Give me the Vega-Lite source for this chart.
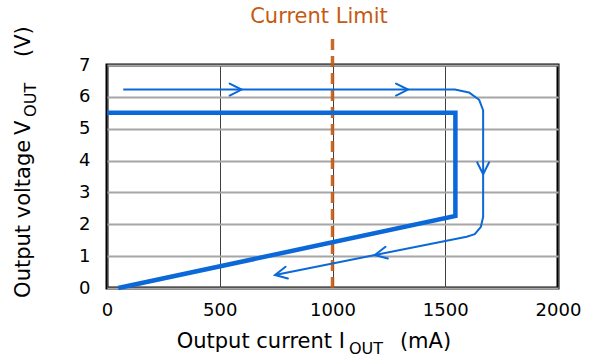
{
  "$schema": "https://vega.github.io/schema/vega-lite/v6.json",
  "width": 451,
  "height": 223,
  "autosize": {"type": "none"},
  "padding": {"left": 107, "top": 65, "right": 32, "bottom": 74},
  "background": "white",
  "data": {"values": [{}]},
  "config": {
    "view": {"stroke": "#000000", "strokeWidth": 3},
    "font": "DejaVu Sans"
  },
  "datasets": {
    "thick": [
      {"i": 1, "current": 0, "voltage": 5.5},
      {"i": 2, "current": 1545, "voltage": 5.5},
      {"i": 3, "current": 1545, "voltage": 2.26},
      {"i": 4, "current": 50, "voltage": 0}
    ],
    "thin": [
      {"i": 1, "current": 72, "voltage": 6.23},
      {"i": 2, "current": 1543, "voltage": 6.23},
      {"i": 3, "current": 1605, "voltage": 6.14},
      {"i": 4, "current": 1650, "voltage": 5.91},
      {"i": 5, "current": 1668, "voltage": 5.58},
      {"i": 6, "current": 1668, "voltage": 2.23},
      {"i": 7, "current": 1658, "voltage": 1.92},
      {"i": 8, "current": 1631, "voltage": 1.69},
      {"i": 9, "current": 1595, "voltage": 1.61},
      {"i": 10, "current": 745, "voltage": 0.41}
    ],
    "arrows": [
      {"current": 597, "voltage": 6.23, "dir": 0},
      {"current": 1335, "voltage": 6.23, "dir": 0},
      {"current": 1668, "voltage": 3.57, "dir": 90},
      {"current": 1188, "voltage": 1.035, "dir": 168.7},
      {"current": 745, "voltage": 0.41, "dir": 168.7}
    ]
  },
  "layer": [
    {
      "mark": {"type": "rule", "color": "#c55a11", "strokeWidth": 3.5, "strokeDash": [11, 6], "opacity": 0.9},
      "encoding": {
        "x": {
          "datum": 1000, "type": "quantitative",
          "scale": {"domain": [0, 2000], "nice": false, "zero": false},
          "axis": {
            "values": [0, 500, 1000, 1500, 2000], "tickCount": 5, "format": "d",
            "title": null, "domain": false, "ticks": false, "tickSize": 0,
            "labelPadding": 13, "labelFontSize": 18, "labelColor": "#000000",
            "labelFont": "DejaVu Sans", "labelFlush": false, "labelOverlap": false,
            "grid": true, "gridColor": "#404040", "gridWidth": 1, "gridOpacity": 1
          }
        },
        "y": {
          "datum": 0, "type": "quantitative",
          "scale": {"domain": [0, 7], "nice": false, "zero": false},
          "axis": {
            "values": [0, 1, 2, 3, 4, 5, 6, 7], "tickCount": 8, "format": "d",
            "title": null, "domain": false, "ticks": false, "tickSize": 0,
            "labelPadding": 17, "labelFontSize": 18, "labelColor": "#000000",
            "labelFont": "DejaVu Sans", "labelFlush": false, "labelOverlap": false,
            "grid": true, "gridColor": "#a6a6a6", "gridWidth": 2, "gridOpacity": 1
          }
        },
        "y2": {"datum": 8.0}
      }
    },
    {
      "data": {"name": "thick"},
      "mark": {"type": "line", "color": "#0a68d8", "strokeWidth": 4.5, "strokeJoin": "miter", "strokeCap": "butt"},
      "encoding": {
        "x": {"field": "current", "type": "quantitative"},
        "y": {"field": "voltage", "type": "quantitative"},
        "order": {"field": "i"}
      }
    },
    {
      "data": {"name": "thin"},
      "mark": {"type": "line", "color": "#0a68d8", "strokeWidth": 2, "strokeJoin": "round"},
      "encoding": {
        "x": {"field": "current", "type": "quantitative"},
        "y": {"field": "voltage", "type": "quantitative"},
        "order": {"field": "i"}
      }
    },
    {
      "data": {"name": "arrows"},
      "mark": {"type": "point", "shape": "M-1,-0.5L0,0L-1,0.5", "filled": false, "size": 576, "stroke": "#0a68d8", "strokeWidth": 2, "opacity": 1, "strokeCap": "round"},
      "encoding": {
        "x": {"field": "current", "type": "quantitative"},
        "y": {"field": "voltage", "type": "quantitative"},
        "angle": {"field": "dir", "type": "quantitative", "scale": null}
      }
    },
    {
      "mark": {"type": "text", "text": "Current Limit", "color": "#c55a11", "fontSize": 21, "font": "DejaVu Sans", "align": "center", "baseline": "alphabetic"},
      "encoding": {
        "x": {"datum": 940, "type": "quantitative"},
        "y": {"datum": 8.32, "type": "quantitative"}
      }
    },
    {
      "mark": {"type": "text", "text": "Output current I", "color": "#000000", "fontSize": 21, "font": "DejaVu Sans", "align": "left", "baseline": "alphabetic"},
      "encoding": {
        "x": {"datum": 309, "type": "quantitative"},
        "y": {"datum": -1.88, "type": "quantitative"}
      }
    },
    {
      "mark": {"type": "text", "text": "OUT", "color": "#000000", "fontSize": 16, "font": "DejaVu Sans", "align": "left", "baseline": "alphabetic"},
      "encoding": {
        "x": {"datum": 1073, "type": "quantitative"},
        "y": {"datum": -2.07, "type": "quantitative"}
      }
    },
    {
      "mark": {"type": "text", "text": "(mA)", "color": "#000000", "fontSize": 21, "font": "DejaVu Sans", "align": "left", "baseline": "alphabetic"},
      "encoding": {
        "x": {"datum": 1299, "type": "quantitative"},
        "y": {"datum": -1.88, "type": "quantitative"}
      }
    },
    {
      "mark": {"type": "text", "text": "Output voltage", "color": "#000000", "fontSize": 21, "font": "DejaVu Sans", "align": "left", "baseline": "alphabetic", "angle": 270},
      "encoding": {
        "x": {"datum": -341, "type": "quantitative"},
        "y": {"datum": -0.31, "type": "quantitative"}
      }
    },
    {
      "mark": {"type": "text", "text": "V", "color": "#000000", "fontSize": 21, "font": "DejaVu Sans", "align": "left", "baseline": "alphabetic", "angle": 270},
      "encoding": {
        "x": {"datum": -341, "type": "quantitative"},
        "y": {"datum": 4.8, "type": "quantitative"}
      }
    },
    {
      "mark": {"type": "text", "text": "OUT", "color": "#000000", "fontSize": 16, "font": "DejaVu Sans", "align": "left", "baseline": "alphabetic", "angle": 270},
      "encoding": {
        "x": {"datum": -315, "type": "quantitative"},
        "y": {"datum": 5.37, "type": "quantitative"}
      }
    },
    {
      "mark": {"type": "text", "text": "(V)", "color": "#000000", "fontSize": 21, "font": "DejaVu Sans", "align": "left", "baseline": "alphabetic", "angle": 270},
      "encoding": {
        "x": {"datum": -341, "type": "quantitative"},
        "y": {"datum": 7.25, "type": "quantitative"}
      }
    }
  ]
}
